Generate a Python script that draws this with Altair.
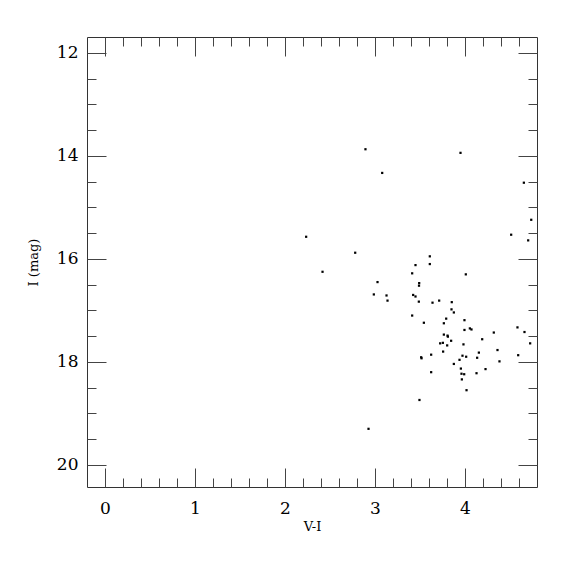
import altair as alt
import pandas as pd

# V-I colour and I magnitude of each star
vi = [4.736, 4.513, 4.702, 2.780, 3.609, 3.609, 3.450, 3.413, 4.009, 3.028,
      3.491, 3.489, 2.987, 3.128, 3.424, 3.450, 3.139, 3.487, 3.639, 3.713,
      3.853, 3.850, 3.876, 3.413, 3.791, 3.765, 3.543, 3.994, 3.994, 4.054,
      4.072, 4.320, 4.583, 4.661, 4.724, 3.765, 3.806, 3.810, 3.846, 4.191,
      3.724, 3.754, 3.802, 3.983, 3.757, 3.624, 3.513, 3.517, 3.972, 4.013,
      4.154, 4.135, 4.361, 4.591, 3.939, 4.383, 3.876, 3.954, 4.228, 3.624,
      3.961, 3.991, 4.128, 3.965, 4.017, 3.494, 2.928, 2.894, 3.950, 3.080,
      4.654, 2.235, 2.417]
imag = [15.24, 15.53, 15.64, 15.88, 15.95, 16.10, 16.12, 16.28, 16.30, 16.45,
        16.47, 16.52, 16.69, 16.71, 16.70, 16.73, 16.81, 16.83, 16.85, 16.81,
        16.84, 16.98, 17.04, 17.10, 17.16, 17.25, 17.24, 17.19, 17.38, 17.35,
        17.37, 17.43, 17.33, 17.42, 17.64, 17.47, 17.49, 17.51, 17.59, 17.56,
        17.64, 17.63, 17.68, 17.66, 17.80, 17.86, 17.91, 17.93, 17.88, 17.90,
        17.82, 17.92, 17.77, 17.87, 17.96, 17.99, 18.04, 18.13, 18.14, 18.20,
        18.23, 18.24, 18.22, 18.34, 18.55, 18.74, 19.30, 13.87, 13.94, 14.33,
        14.52, 15.57, 16.25]

x_domain = [-0.2, 4.8]
y_domain = [11.69, 20.43]
x_major = [0, 1, 2, 3, 4]
x_minor = [0.2, 0.4, 0.6, 0.8, 1.2, 1.4, 1.6, 1.8, 2.2, 2.4, 2.6, 2.8,
           3.2, 3.4, 3.6, 3.8, 4.2, 4.4, 4.6]
y_major = [12, 14, 16, 18, 20]
y_minor = [12.5, 13, 13.5, 14.5, 15, 15.5, 16.5, 17, 17.5, 18.5, 19, 19.5]

df = pd.DataFrame({"vi": vi, "imag": imag})

W = 450
H = 450
FONT = "DejaVu Serif"
TICK = "#444444"
MAJOR = 19
MINOR = 9

xs = alt.Scale(domain=x_domain, nice=False, zero=False)
ys = alt.Scale(domain=y_domain, nice=False, zero=False, reverse=True)

base = alt.Chart(df)

points = base.mark_square(size=5, color="black", opacity=1).encode(
    x=alt.X("vi:Q", scale=xs, axis=alt.Axis(
        orient="bottom", values=x_major, ticks=False, domain=False, grid=False,
        labelFont=FONT, labelFontSize=17, labelColor="black", labelPadding=13,
        title="V-I", titleFont=FONT, titleFontSize=13, titleFontWeight="normal",
        titleColor="black", titlePadding=4, format="d")),
    y=alt.Y("imag:Q", scale=ys, axis=alt.Axis(
        orient="left", values=y_major, ticks=False, domain=False, grid=False,
        labelFont=FONT, labelFontSize=17, labelColor="black", labelPadding=9,
        title="I (mag)", titleFont=FONT, titleFontSize=13, titleFontWeight="normal",
        titleColor="black", titlePadding=16, format="d")),
)


def tick_layer(xorient, xvals, xsize, yorient, yvals, ysize):
    return base.mark_square(opacity=0).encode(
        x=alt.X("vi:Q", scale=xs, axis=alt.Axis(
            orient=xorient, offset=-H, values=xvals, tickSize=xsize,
            tickColor=TICK, tickWidth=1, labels=False, domain=False,
            grid=False, title=None)),
        y=alt.Y("imag:Q", scale=ys, axis=alt.Axis(
            orient=yorient, offset=-W, values=yvals, tickSize=ysize,
            tickColor=TICK, tickWidth=1, labels=False, domain=False,
            grid=False, title=None)),
    )


layers = [
    points,
    tick_layer("top", x_major, MAJOR, "right", y_major, MAJOR),
    tick_layer("top", x_minor, MINOR, "right", y_minor, MINOR),
    tick_layer("bottom", x_major, MAJOR, "left", y_major, MAJOR),
    tick_layer("bottom", x_minor, MINOR, "left", y_minor, MINOR),
]

chart = alt.layer(*layers).resolve_axis(
    x="independent", y="independent"
).properties(
    width=W, height=H,
    autosize=alt.AutoSizeParams(type="none"),
    padding={"left": 79, "top": 29, "right": 20, "bottom": 70},
).configure_view(stroke="#333333", strokeWidth=1)

chart.save("out.html", embed_options={"renderer": "svg", "actions": False})
